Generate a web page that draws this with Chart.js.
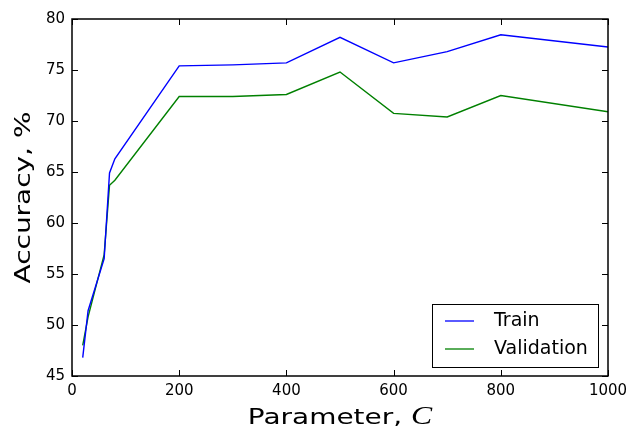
<!DOCTYPE html>
<html>
<head>
<meta charset="utf-8">
<script src="https://cdn.jsdelivr.net/npm/chart.js@4"></script>
<style>
    html, body { margin: 0; padding: 0; background: #fff; }
    #wrap { width: 629px; height: 430px; }
</style>
</head>
<body>
<div id="wrap"><canvas id="accChart" width="629" height="430"></canvas></div>
<script>
// Datos
const paramC = [20, 30, 60, 70, 80, 200, 300, 400, 500, 600, 700, 800, 1000];
const trainAcc = [46.8, 51.4, 56.5, 64.9, 66.3, 75.4, 75.5, 75.7, 78.2, 75.7, 76.8, 78.45, 77.25];
const validAcc = [48.0, 50.8, 56.9, 63.7, 64.2, 72.4, 72.4, 72.6, 74.8, 70.75, 70.4, 72.5, 70.9];
const xTicks = [0, 200, 400, 600, 800, 1000];
const yTicks = [45, 50, 55, 60, 65, 70, 75, 80];

const FONT = 'DejaVu Sans';
const TITLE_STRETCH = 1.27;

// Marco, ticks hacia dentro, títulos y leyenda al estilo matplotlib
const mplStyle = {
    id: 'mplStyle',
    afterDraw(chart) {
        const { ctx, chartArea: a, scales: { x, y } } = chart;
        ctx.save();
        ctx.strokeStyle = '#000';
        ctx.lineWidth = 1;
        const len = 6;
        ctx.beginPath();
        xTicks.forEach(v => {
            const px = Math.round(x.getPixelForValue(v)) + 0.5;
            ctx.moveTo(px, a.bottom); ctx.lineTo(px, a.bottom - len);
            ctx.moveTo(px, a.top); ctx.lineTo(px, a.top + len);
        });
        yTicks.forEach(v => {
            const py = Math.round(y.getPixelForValue(v)) + 0.5;
            ctx.moveTo(a.left, py); ctx.lineTo(a.left + len, py);
            ctx.moveTo(a.right, py); ctx.lineTo(a.right - len, py);
        });
        ctx.stroke();

        ctx.lineWidth = 1.5;
        ctx.strokeRect(a.left, a.top, a.right - a.left, a.bottom - a.top);

        ctx.fillStyle = '#000';
        ctx.textBaseline = 'alphabetic';
        ctx.textAlign = 'left';

        // Título eje X: "Parameter, " + C en cursiva
        const part1 = 'Parameter, ';
        const part2 = 'C';
        const f1 = `22px "${FONT}"`;
        const f2 = 'italic 25px "Liberation Serif"';
        ctx.font = f1;
        const w1 = ctx.measureText(part1).width;
        ctx.font = f2;
        const w2 = ctx.measureText(part2).width;
        ctx.save();
        ctx.translate((a.left + a.right) / 2, 424);
        ctx.scale(TITLE_STRETCH, 1);
        const sx = -(w1 + w2) / 2;
        ctx.font = f1;
        ctx.fillText(part1, sx, 0);
        ctx.font = f2;
        ctx.fillText(part2, sx + w1, 0);
        ctx.restore();

        // Título eje Y
        ctx.save();
        ctx.translate(29.5, (a.top + a.bottom) / 2);
        ctx.rotate(-Math.PI / 2);
        ctx.scale(TITLE_STRETCH, 1);
        ctx.textAlign = 'center';
        ctx.font = f1;
        ctx.fillText('Accuracy, %', 0, 0);
        ctx.restore();

        // Leyenda
        const bw = 166, bh = 63;
        const bx = Math.round(a.right) - 10 - bw, by = Math.round(a.bottom) - 9 - bh;
        ctx.fillStyle = '#fff';
        ctx.fillRect(bx, by, bw, bh);
        ctx.lineWidth = 1;
        ctx.strokeStyle = '#000';
        ctx.strokeRect(bx + 0.5, by + 0.5, bw, bh);
        ctx.font = `19px "${FONT}"`;
        ctx.textBaseline = 'middle';
        chart.data.datasets.forEach((ds, i) => {
            const ly = by + 17 + i * 28;
            ctx.strokeStyle = ds.borderColor;
            ctx.lineWidth = 1.3;
            ctx.beginPath();
            ctx.moveTo(bx + 13, ly); ctx.lineTo(bx + 42, ly);
            ctx.stroke();
            ctx.fillStyle = '#000';
            ctx.fillText(ds.label, bx + 62, ly);
        });
        ctx.restore();
    }
};

const ctx = document.getElementById('accChart').getContext('2d');
new Chart(ctx, {
    type: 'line',
    data: {
        datasets: [{
            label: 'Train',
            data: paramC.map((c, i) => ({ x: c, y: trainAcc[i] })),
            borderColor: '#0000ff',
            borderWidth: 1.4,
            pointRadius: 0,
            tension: 0,
            fill: false
        }, {
            label: 'Validation',
            data: paramC.map((c, i) => ({ x: c, y: validAcc[i] })),
            borderColor: '#008000',
            borderWidth: 1.4,
            pointRadius: 0,
            tension: 0,
            fill: false
        }]
    },
    options: {
        responsive: false,
        animation: false,
        layout: { padding: { top: 19, right: 21, left: 0, bottom: 0 } },
        plugins: { legend: { display: false }, tooltip: { enabled: false } },
        scales: {
            x: {
                type: 'linear',
                min: 0, max: 1000,
                afterBuildTicks: s => { s.ticks = xTicks.map(v => ({ value: v })); },
                afterFit: s => { s.height = 54; s.paddingLeft = 0; s.paddingRight = 0; },
                grid: { display: false, drawTicks: false },
                border: { display: false },
                ticks: { color: '#000', padding: 6, maxRotation: 0, callback: v => String(v), font: { family: FONT, size: 15 } }
            },
            y: {
                min: 45, max: 80,
                afterBuildTicks: s => { s.ticks = yTicks.map(v => ({ value: v })); },
                afterFit: s => { s.width = 72; s.paddingTop = 0; s.paddingBottom = 0; },
                grid: { display: false, drawTicks: false },
                border: { display: false },
                ticks: { color: '#000', padding: 7, callback: v => String(v), font: { family: FONT, size: 15 } }
            }
        }
    },
    plugins: [mplStyle]
});
</script>
</body>
</html>
